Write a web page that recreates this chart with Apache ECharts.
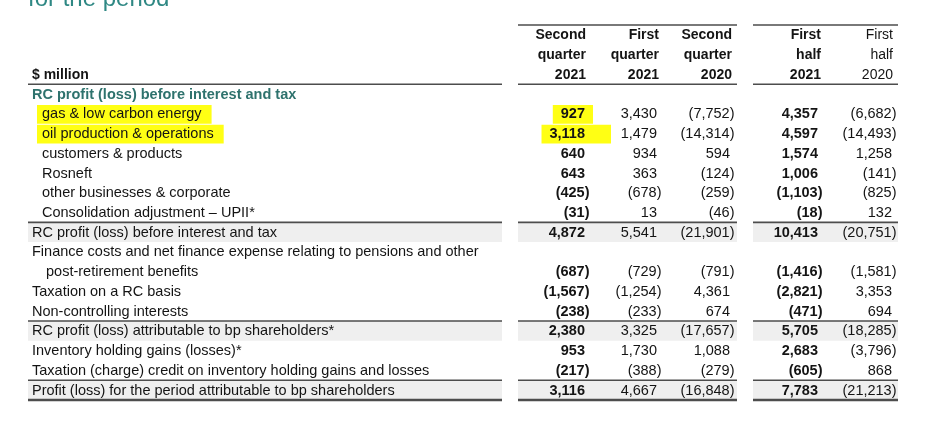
<!DOCTYPE html>
<html>
<head>
<meta charset="utf-8">
<script src="https://cdn.jsdelivr.net/npm/echarts@6/dist/echarts.min.js"></script>
<style>
  html, body { margin: 0; padding: 0; background: #fff; }
  #chart { width: 925px; height: 444px; }
</style>
</head>
<body>
<div id="chart"></div>
<script>
  // ---- data ----
  var headerLines = [
    ['Second', 'quarter', '2021'],
    ['First', 'quarter', '2021'],
    ['Second', 'quarter', '2020'],
    ['First', 'half', '2021'],
    ['First', 'half', '2020']
  ];
  var rowNames = [
    'RC profit (loss) before interest and tax',
    'gas & low carbon energy',
    'oil production & operations',
    'customers & products',
    'Rosneft',
    'other businesses & corporate',
    'Consolidation adjustment \u2013 UPII*',
    'RC profit (loss) before interest and tax',
    'Finance costs and net finance expense relating to pensions and other',
    'post-retirement benefits',
    'Taxation on a RC basis',
    'Non-controlling interests',
    'RC profit (loss) attributable to bp shareholders*',
    'Inventory holding gains (losses)*',
    'Taxation (charge) credit on inventory holding gains and losses',
    'Profit (loss) for the period attributable to bp shareholders'
  ];
  var q2_2021 = [null, 927, 3118, 640, 643, -425, -31, 4872, null, -687, -1567, -238, 2380, 953, -217, 3116];
  var q1_2021 = [null, 3430, 1479, 934, 363, -678, 13, 5541, null, -729, -1254, -233, 3325, 1730, -388, 4667];
  var q2_2020 = [null, -7752, -14314, 594, -124, -259, -46, -21901, null, -791, 4361, 674, -17657, 1088, -279, -16848];
  var h1_2021 = [null, 4357, 4597, 1574, 1006, -1103, -18, 10413, null, -1416, -2821, -471, 5705, 2683, -605, 7783];
  var h1_2020 = [null, -6682, -14493, 1258, -141, -825, 132, -20751, null, -1581, 3353, 694, -18285, -3796, 868, -21213];
  var columns = [q2_2021, q1_2021, q2_2020, h1_2021, h1_2020];
  var highlightRows = [1, 2];   // marked with the yellow pen, also in the first column
  var totalRows = [7, 12, 15];  // shaded rows with a rule above

  // ---- layout ----
  var FONT = "'Liberation Sans', Arial, sans-serif";
  var HEAD = 3;                                   // header lines above the rows
  var colRight = [585, 657, 730, 818, 892];      // right edge of figures (closing bracket hangs out)
  var headRight = [586, 659, 732, 821, 893];
  var colBold = [true, false, false, true, false];
  var headBold = [true, true, true, true, false];
  var segs = [[28, 502], [518, 737], [753, 898]];
  var indent = [0, 1, 1, 1, 1, 1, 1, 0, 0, 2, 0, 0, 0, 0, 0, 0];
  var indentX = [32, 42, 46];
  var TEAL = '#2e726d';
  var INK = '#141414';
  var RULE = '#4d4d4d';

  var slots = [];
  for (var i = 0; i < HEAD + rowNames.length; i++) slots.push('s' + i);

  var ctx = document.createElement('canvas').getContext('2d');
  function textWidth(t, font) { ctx.font = font; return ctx.measureText(t).width; }

  function fmt(v) {
    var s = Math.abs(v).toLocaleString('en-US');
    return v < 0 ? '(' + s + ')' : s;
  }

  // cells: [x, slot, text, font, colour, align]
  var cells = [];
  headerLines.forEach(function (lines, c) {
    lines.forEach(function (t, k) {
      cells.push([headRight[c], k, t, (headBold[c] ? 'bold ' : '') + '14px ' + FONT, INK, 'right']);
    });
  });
  cells.push([32, 2, '$ million', 'bold 14px ' + FONT, INK, 'left']);
  rowNames.forEach(function (name, r) {
    var first = r === 0;
    cells.push([indentX[indent[r]], r + HEAD, name, (first ? 'bold ' : '') + '14.5px ' + FONT, first ? TEAL : INK, 'left']);
  });
  columns.forEach(function (vals, c) {
    vals.forEach(function (v, r) {
      if (v === null) return;
      var x = colRight[c] + (v < 0 ? 4.5 : 0);
      cells.push([x, r + HEAD, fmt(v), (colBold[c] ? 'bold ' : '') + '14.5px ' + FONT, INK, 'right']);
    });
  });

  // yellow marker strokes: [x0, x1, slot]
  var marks = [];
  highlightRows.forEach(function (r) {
    var x0 = indentX[indent[r]];
    var w = textWidth(rowNames[r], '14.5px ' + FONT);
    marks.push([x0 - 5, x0 + w + 10, r + HEAD]);
    var t = fmt(q2_2021[r]);
    var tw = textWidth(t, 'bold 14.5px ' + FONT);
    marks.push([colRight[0] - tw - 8, colRight[0] + 8 + (r === 2 ? 18 : 0), r + HEAD]);
  });

  // rules: [slot edge, which segments, width]
  var rules = [
    [0, [1, 2], 1.6],
    [HEAD, [0, 1, 2], 1.6],
    [HEAD + 7, [0, 1, 2], 1.6],
    [HEAD + 12, [0, 1, 2], 1.6],
    [HEAD + 15, [0, 1, 2], 1.6],
    [HEAD + 16, [0, 1, 2], 2.6]
  ];

  var chart = echarts.init(document.getElementById('chart'));
  chart.setOption({
    animation: false,
    backgroundColor: '#fff',
    graphic: [{
      type: 'text', left: 28, top: -13,
      style: { text: 'for the period', font: '24px ' + FONT, fill: '#2f8884' }
    }],
    grid: { left: 0, right: 0, top: 25, bottom: 44 },
    xAxis: { type: 'value', min: 0, max: 925, show: false },
    yAxis: { type: 'category', data: slots, inverse: true, show: false },
    series: [
      {
        type: 'custom',
        name: 'shade',
        data: totalRows.map(function (r) { return [0, r + HEAD]; }),
        renderItem: function (params, api) {
          var h = api.size([0, 1])[1];
          var y = api.coord([0, api.value(1)])[1];
          return {
            type: 'group',
            children: segs.map(function (s) {
              var a = api.coord([s[0], api.value(1)])[0];
              var b = api.coord([s[1], api.value(1)])[0];
              return { type: 'rect', shape: { x: a, y: y - h / 2, width: b - a, height: h }, style: { fill: '#efefef' } };
            })
          };
        }
      },
      {
        type: 'custom',
        name: 'marker',
        data: marks,
        renderItem: function (params, api) {
          var h = api.size([0, 1])[1];
          var p0 = api.coord([api.value(0), api.value(2)]);
          var p1 = api.coord([api.value(1), api.value(2)]);
          return { type: 'rect', shape: { x: p0[0], y: p0[1] - h / 2 + 1, width: p1[0] - p0[0], height: h - 1 }, style: { fill: '#ffff14' } };
        }
      },
      {
        type: 'custom',
        name: 'rules',
        data: rules.map(function (r) { return [0, r[0]]; }),
        renderItem: function (params, api) {
          var rule = rules[params.dataIndex];
          var h = api.size([0, 1])[1];
          var slot = Math.min(rule[0], slots.length - 1);
          var y = api.coord([0, slot])[1] - h / 2 + (rule[0] > slot ? h : 0);
          return {
            type: 'group',
            children: rule[1].map(function (k) {
              var a = api.coord([segs[k][0], slot])[0];
              var b = api.coord([segs[k][1], slot])[0];
              return { type: 'line', shape: { x1: a, y1: y, x2: b, y2: y }, style: { stroke: RULE, lineWidth: rule[2] } };
            })
          };
        }
      },
      {
        type: 'custom',
        name: 'cells',
        data: cells.map(function (c) { return [c[0], c[1]]; }),
        renderItem: function (params, api) {
          var c = cells[params.dataIndex];
          var p = api.coord([api.value(0), api.value(1)]);
          return {
            type: 'text', x: p[0], y: p[1] + 0.5,
            style: { text: c[2], font: c[3], fill: c[4], align: c[5], verticalAlign: 'middle' }
          };
        }
      }
    ]
  });
</script>
</body>
</html>
